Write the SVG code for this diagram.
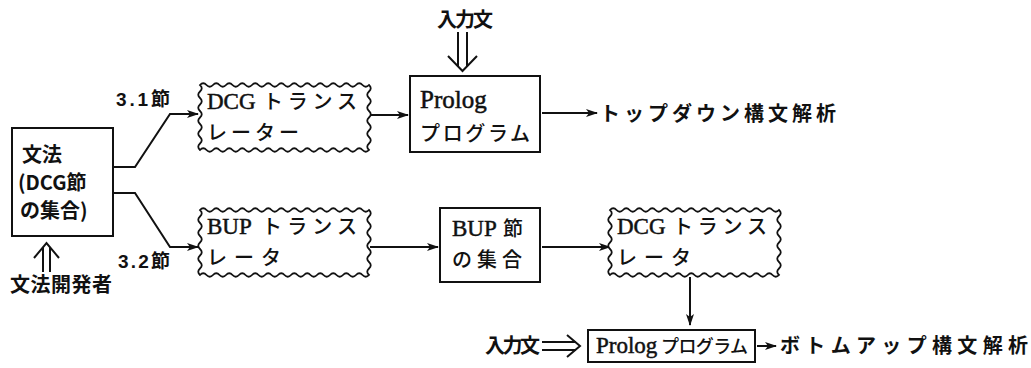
<svg xmlns="http://www.w3.org/2000/svg" width="1031" height="368" viewBox="0 0 1031 368">
<style>
.box{fill:#fff;stroke:#111;stroke-width:2}
.wave{fill:#fff;stroke:#111;stroke-width:1.8}
.ln{fill:none;stroke:#111;stroke-width:2}
.l{font-family:"Liberation Serif",serif;font-size:23px;fill:#111;stroke:#111;stroke-width:0.5}
.k{font-family:"Noto Sans CJK JP",sans-serif;font-size:20px;font-weight:500;fill:#111}
.g{font-family:"Noto Sans CJK JP",sans-serif;font-size:20px;font-weight:bold;fill:#111}
.n{font-family:"Liberation Sans","Noto Sans CJK JP",sans-serif;font-size:19px;font-weight:bold;fill:#111}
</style>
<defs>
<marker id="ah" viewBox="0 0 12 8" refX="11" refY="4" markerWidth="12" markerHeight="8" markerUnits="userSpaceOnUse" orient="auto">
<path d="M0,0 L12,4 L0,8 L3,4 Z" fill="#111"/>
</marker>
<path id="wv" d="M0,0 q3.25,-3.5 6.5,0 t6.5,0 t6.5,0 t6.5,0 t6.5,0 t6.5,0 t6.5,0 t6.5,0 t6.5,0 t6.5,0 t6.5,0 t6.5,0 t6.5,0 t6.5,0 t6.5,0 t6.5,0 t6.5,0 t6.5,0 t6.5,0 t6.5,0 t6.5,0 t6.5,0 t6.5,0 t6.5,0 t6.5,0 t6.5,0 q3.5,3.25 0,6.5 t0,6.5 t0,6.5 t0,6.5 t0,6.5 t0,6.5 t0,6.5 t0,6.5 t0,6.5 t0,6.5 q-3.25,3.5 -6.5,0 t-6.5,0 t-6.5,0 t-6.5,0 t-6.5,0 t-6.5,0 t-6.5,0 t-6.5,0 t-6.5,0 t-6.5,0 t-6.5,0 t-6.5,0 t-6.5,0 t-6.5,0 t-6.5,0 t-6.5,0 t-6.5,0 t-6.5,0 t-6.5,0 t-6.5,0 t-6.5,0 t-6.5,0 t-6.5,0 t-6.5,0 t-6.5,0 t-6.5,0 q-3.5,-3.25 0,-6.5 t0,-6.5 t0,-6.5 t0,-6.5 t0,-6.5 t0,-6.5 t0,-6.5 t0,-6.5 t0,-6.5 t0,-6.5 Z"/>
</defs>
<rect width="1031" height="368" fill="#fff"/>

<g id="connectors">
<polyline class="ln" points="113,167 135,167 170,114 198,114" marker-end="url(#ah)"/>
<polyline class="ln" points="113,193 135,193 170,247 198,247" marker-end="url(#ah)"/>
<line class="ln" x1="370" y1="115" x2="408" y2="115" marker-end="url(#ah)"/>
<line class="ln" x1="542" y1="113" x2="597" y2="113" marker-end="url(#ah)"/>
<line class="ln" x1="370" y1="247" x2="438" y2="247" marker-end="url(#ah)"/>
<line class="ln" x1="542" y1="247" x2="610" y2="247" marker-end="url(#ah)"/>
<line class="ln" x1="690" y1="277" x2="690" y2="325" marker-end="url(#ah)"/>
<line class="ln" x1="757" y1="346" x2="776" y2="346" marker-end="url(#ah)"/>
<path class="ln" d="M43,272 V247 M50,272 V247 M34,258 L46.5,243 L59,258"/>
<path class="ln" d="M458,32 V67 M467,32 V67 M448,56 L462.5,71 L477,56"/>
<path class="ln" d="M542,342 H576 M542,350 H576 M567,335 L580,346 L567,357"/>
</g>

<g id="grammar">
<rect class="box" x="12" y="128" width="101" height="108"/>
<text class="g" x="22" y="162">文法</text>
<text class="g" x="18" y="190">(DCG節</text>
<text class="g" x="20" y="218">の集合)</text>
</g>
<g id="label-31"><text class="n" x="116" y="106" textLength="54" lengthAdjust="spacing">3.1節</text></g>
<g id="label-32"><text class="n" x="118" y="268" textLength="52" lengthAdjust="spacing">3.2節</text></g>
<g id="developer">
<text class="g" x="10" y="292" textLength="102" lengthAdjust="spacing">文法開発者</text>
</g>

<g id="dcg-translator-top">
<use href="#wv" x="200" y="85" class="wave"/>
<text class="l" x="207" y="109">DCG</text>
<text class="k" x="263" y="109" textLength="94" lengthAdjust="spacing">トランス</text>
<text class="k" x="207" y="140" textLength="92" lengthAdjust="spacing">レーター</text>
</g>

<g id="input-top">
<text class="g" x="437" y="27" textLength="56" lengthAdjust="spacing">入力文</text>
</g>

<g id="prolog-top">
<rect class="box" x="410" y="76" width="130" height="76"/>
<text class="l" x="420" y="108" style="font-size:25px">Prolog</text>
<text class="k" x="420" y="141" textLength="110" lengthAdjust="spacing">プログラム</text>
</g>

<g id="topdown">
<text class="g" x="600" y="121" textLength="236" lengthAdjust="spacing">トップダウン構文解析</text>
</g>

<g id="bup-translator">
<use href="#wv" x="200" y="210" class="wave"/>
<text class="l" x="207" y="234">BUP</text>
<text class="k" x="262" y="234" textLength="95" lengthAdjust="spacing">トランス</text>
<text class="k" x="207" y="265" textLength="74" lengthAdjust="spacing">レータ</text>
</g>

<g id="bup-clauses">
<rect class="box" x="440" y="208" width="100" height="74"/>
<text class="l" x="452" y="236">BUP</text>
<text class="k" x="503" y="236">節</text>
<text class="k" x="452" y="267" textLength="70" lengthAdjust="spacing">の集合</text>
</g>

<g id="dcg-translator-bottom">
<use href="#wv" x="610" y="210" class="wave"/>
<text class="l" x="617" y="234">DCG</text>
<text class="k" x="673" y="234" textLength="94" lengthAdjust="spacing">トランス</text>
<text class="k" x="617" y="265" textLength="74" lengthAdjust="spacing">レータ</text>
</g>

<g id="input-bottom">
<text class="g" x="485" y="353" textLength="55" lengthAdjust="spacing">入力文</text>
</g>

<g id="prolog-bottom">
<rect class="box" x="588" y="330" width="167" height="32"/>
<text class="l" x="596" y="353" style="font-size:23px">Prolog</text>
<text class="k" x="661" y="353" style="font-size:18px" textLength="87" lengthAdjust="spacing">プログラム</text>
</g>

<g id="bottomup">
<text class="g" x="780" y="353" textLength="248" lengthAdjust="spacing">ボトムアップ構文解析</text>
</g>
</svg>
